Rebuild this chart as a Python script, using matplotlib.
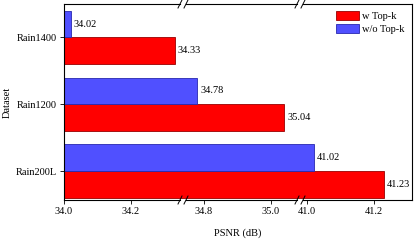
import matplotlib
matplotlib.use("Agg")
import matplotlib.pyplot as plt
import numpy as np

plt.rcParams['font.family'] = ['Liberation Serif', 'DejaVu Serif']
plt.rcParams['font.size'] = 7.5

datasets = ['Rain200L', 'Rain1200', 'Rain1400']
w_topk = [41.23, 35.04, 34.33]
wo_topk = [41.02, 34.78, 34.02]

# x ranges of the three pieces of the broken axis
ranges = [(34.0, 34.355), (34.737, 35.087), (40.979, 41.313)]
ticks = [[34.0, 34.2], [34.8, 35.0], [41.0, 41.2]]

red = '#FF0000'
blue = '#5050FF'
base = 34.0
y = np.arange(len(datasets))
h = 0.4

fig = plt.figure(figsize=(4.15, 2.42), dpi=100)
widths = [r[1] - r[0] for r in ranges]
gs = fig.add_gridspec(1, 3, width_ratios=widths, wspace=0,
                      left=64/415, right=412/415, top=1-4/242, bottom=1-200/242)
axes = [fig.add_subplot(gs[0, i]) for i in range(3)]

for i, ax in enumerate(axes):
    ax.patch.set_visible(False)
    ax.barh(y - h/2, np.array(w_topk) - base, left=base, height=h, color=red,
            edgecolor='#990000', linewidth=0.6, label='w Top-k')
    ax.barh(y + h/2, np.array(wo_topk) - base, left=base, height=h, color=blue,
            edgecolor='#2828b0', linewidth=0.6, label='w/o Top-k')
    lo, hi = ranges[i]
    ax.set_xlim(lo, hi)
    ax.set_ylim(-0.43, 2.5)
    ax.set_xticks(ticks[i])
    ax.set_xticklabels(['%.1f' % t for t in ticks[i]])
    ax.tick_params(axis='x', length=3, width=0.6, pad=2)
    gap = 0.008
    if i > 0:
        ax.spines['left'].set_visible(False)
        ax.tick_params(axis='y', left=False, labelleft=False)
        for s in ['top', 'bottom']:
            ax.spines[s].set_bounds(lo + gap, hi if i == 2 else hi - gap)
    if i < 2:
        ax.spines['right'].set_visible(False)
        if i == 0:
            for s in ['top', 'bottom']:
                ax.spines[s].set_bounds(lo, hi - gap)
    for s in ax.spines.values():
        s.set_linewidth(0.8)
    for v, yy in zip(w_topk, y - h/2):
        if lo <= v <= hi:
            ax.annotate('%.2f' % v, (v, yy), xytext=(2, 0), textcoords='offset points',
                        va='center', ha='left', annotation_clip=False, zorder=10)
    for v, yy in zip(wo_topk, y + h/2):
        if lo <= v <= hi:
            ax.annotate('%.2f' % v, (v, yy), xytext=(2, 0), textcoords='offset points',
                        va='center', ha='left', annotation_clip=False, zorder=10)

axes[0].set_yticks(y)
axes[0].set_yticklabels(datasets)
axes[0].tick_params(axis='y', length=3, width=0.6, pad=2)
axes[0].set_ylabel('Dataset', labelpad=3)

# break marks
for xb in [183, 300]:
    for yb in [4, 200]:
        for dx in [-3, 3]:
            x0 = (xb + dx - 2) / 415
            x1 = (xb + dx + 2) / 415
            y0 = 1 - (yb + 4) / 242
            y1 = 1 - (yb - 4) / 242
            fig.add_artist(plt.Line2D([x0, x1], [y0, y1], color='black', linewidth=0.7))

axes[2].legend(loc='upper right', frameon=False, handlelength=2.2, handleheight=0.9,
               handletextpad=0.3, borderaxespad=0.3, labelspacing=0.3)

fig.text(238/415, 1-233/242, 'PSNR (dB)', ha='center', va='center')

fig.savefig('out.png', dpi=100)
